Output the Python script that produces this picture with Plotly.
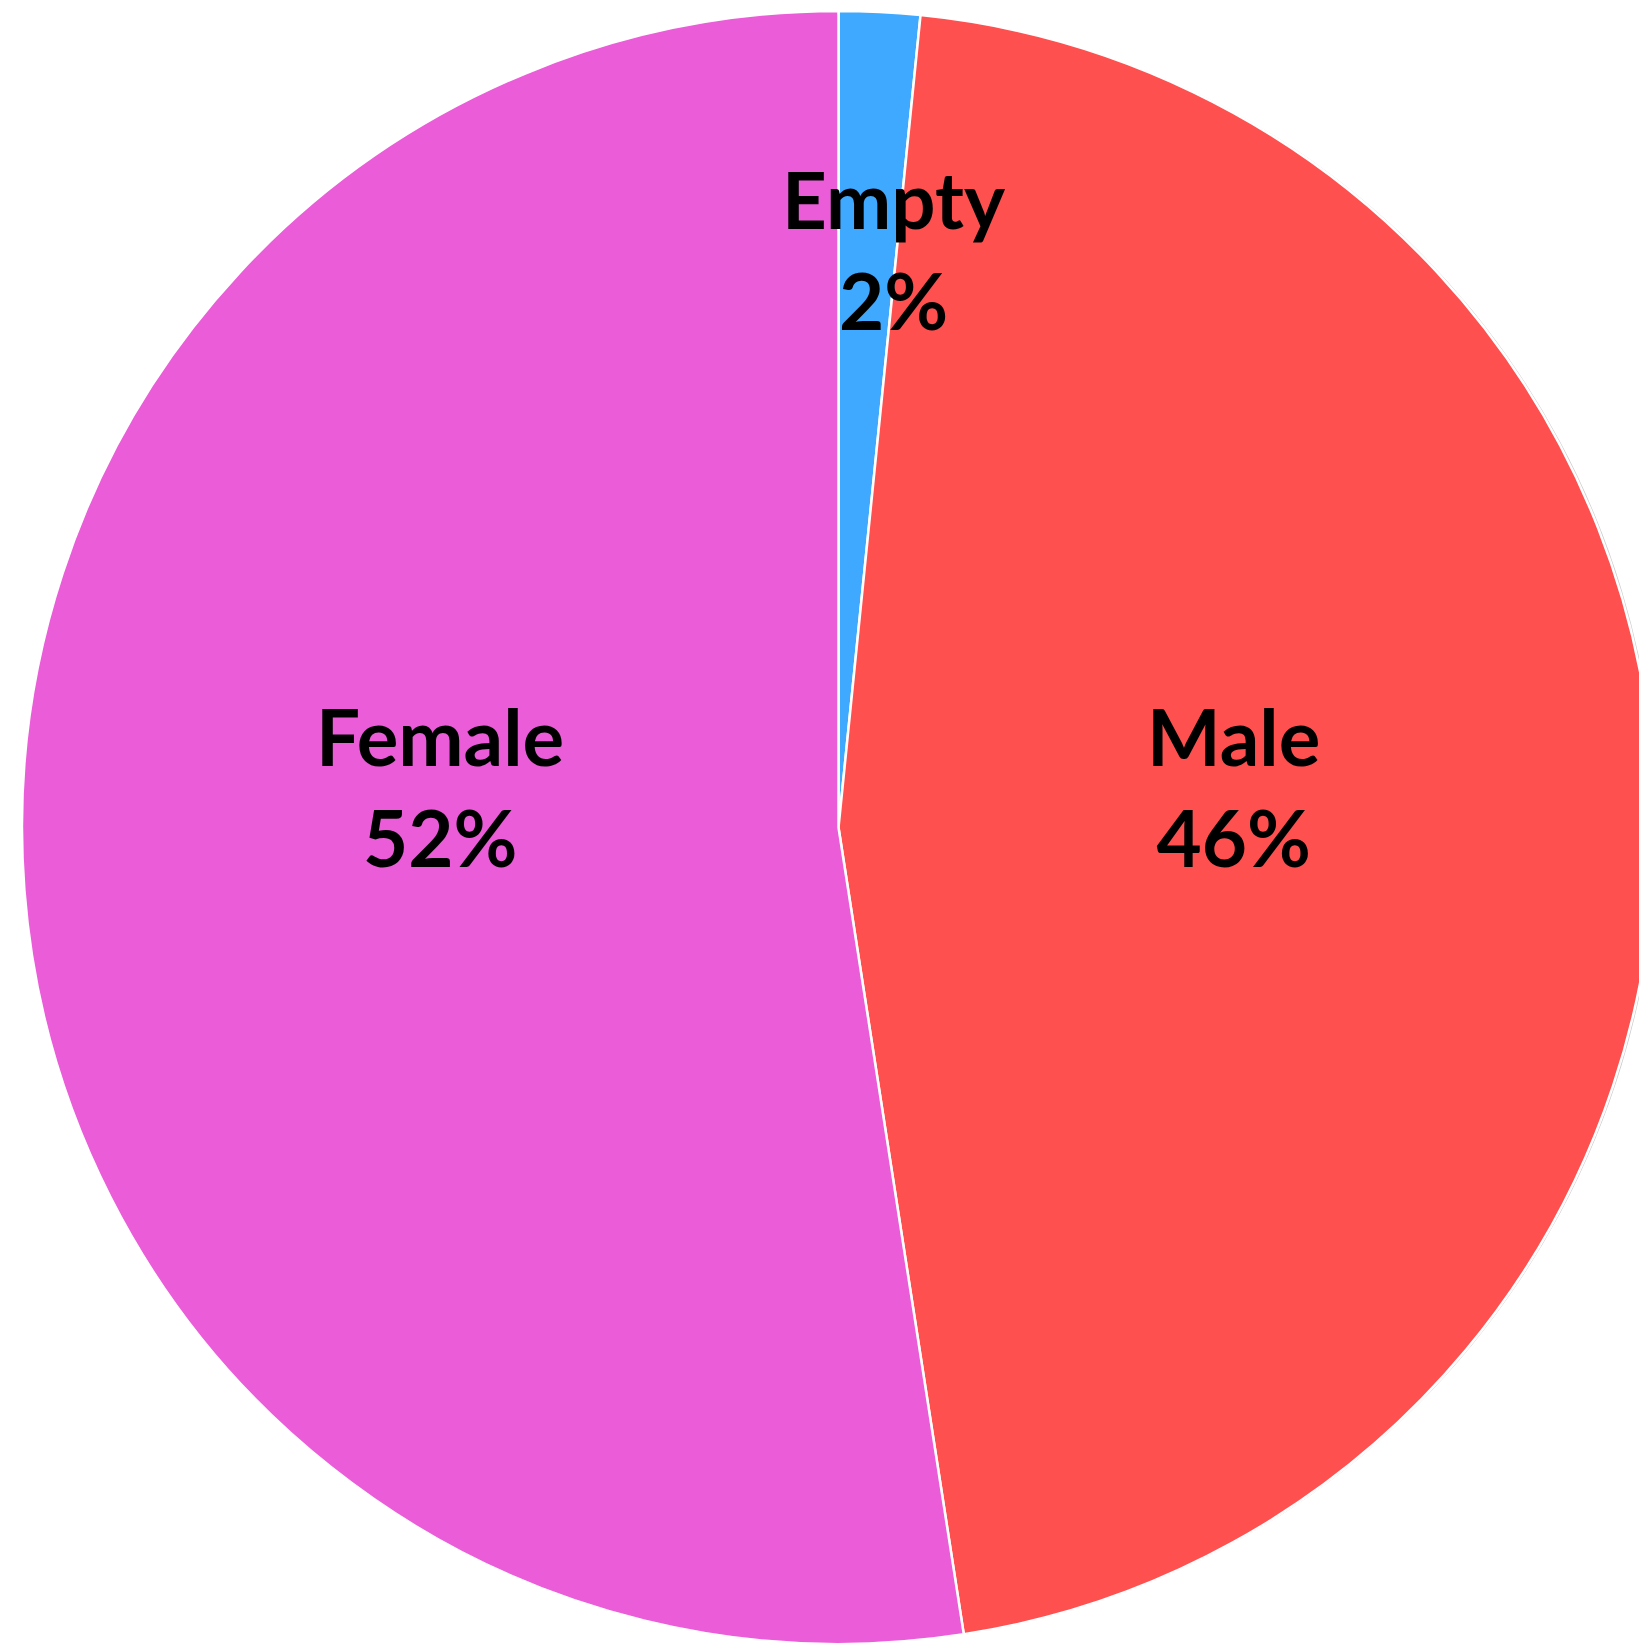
import plotly.graph_objects as go

# Gender breakdown
labels = ["Empty", "Male", "Female"]
counts = [16, 459, 524]
colors = ["#3FA9FF", "#FF5050", "#EB5CD8"]

W, H = 1680, 1644
cx, cy, r = 838.5, 828, 817  # pie centre and radius in pixels


def dom_x(c, rad):
    return [(c - rad) / W, (c + rad) / W]


def dom_y(c, rad):
    return [max(0, (H - c - rad) / H), min(1, (H - c + rad) / H)]


fig = go.Figure()

# soft grey drop shadow under the pie
fig.add_trace(go.Pie(
    values=[1], labels=["shadow"], marker=dict(colors=["#cccccc"], line=dict(width=0)),
    textinfo="none", hoverinfo="skip", showlegend=False, sort=False,
    domain=dict(x=dom_x(cx + 2, r + 3), y=dom_y(cy + 3, r + 3)),
))

fig.add_trace(go.Pie(
    labels=labels, values=counts, sort=False, direction="clockwise", rotation=0,
    marker=dict(colors=colors, line=dict(color="white", width=2.5)),
    textinfo="none", showlegend=False,
    domain=dict(x=dom_x(cx, r), y=dom_y(cy, r)),
))

# label positions (pixels) for each slice
label_pos = {"Empty": (894, 250), "Male": (1233, 786), "Female": (440, 786)}
total = sum(counts)
for lab, val in zip(labels, counts):
    px, py = label_pos[lab]
    fig.add_annotation(
        x=px / W, y=1 - py / H, xref="paper", yref="paper",
        text=f"{lab}<br>{val / total:.0%}", showarrow=False,
        xanchor="center", yanchor="middle",
        font=dict(family="Lato", size=78, color="black", weight="bold"),
    )

fig.update_layout(
    width=W, height=H, margin=dict(l=0, r=0, t=0, b=0),
    paper_bgcolor="white", plot_bgcolor="white",
)

fig.write_html(
    "out.html",
    post_script="document.documentElement.style.overflow='hidden';document.body.style.overflow='hidden';document.body.style.margin='0';",
)
